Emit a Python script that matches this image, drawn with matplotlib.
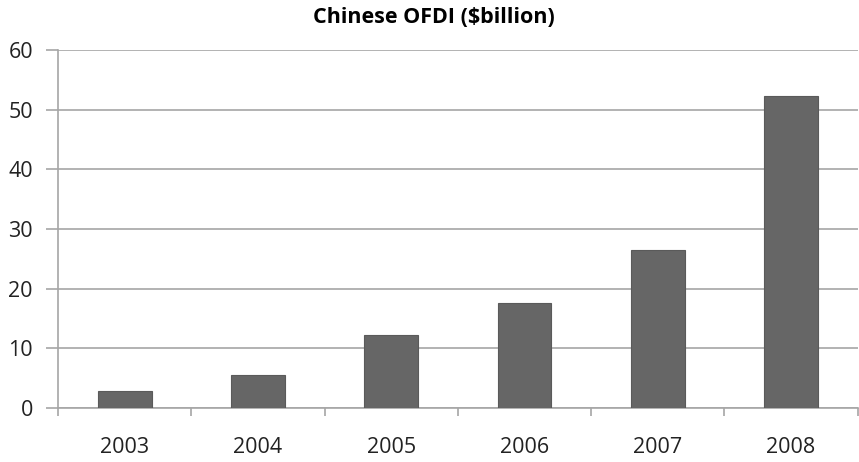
import numpy as np
import matplotlib.pyplot as plt

# data
YEARS = ["2003", "2004", "2005", "2006", "2007", "2008"]
OFDI = [2.9, 5.5, 12.3, 17.6, 26.5, 52.2]

Y_TICKS = [0, 10, 20, 30, 40, 50, 60]

BAR_COLOR = "#666666"
GRID_COLOR = "#a6a6a6"

plt.rcParams["font.family"] = ["Open Sans", "DejaVu Sans"]

figure = plt.figure(figsize=(8.59, 4.62), dpi=100)
axis = figure.add_axes([0.0675, 0.117, 0.931, 0.775])

x = np.arange(len(YEARS))
axis.bar(x, OFDI, width=0.405, color=BAR_COLOR, edgecolor="#5a5a5a",
         linewidth=0.8, zorder=3)

axis.set_xlim(-0.5, len(YEARS) - 0.5)
axis.set_ylim(0, 60)
axis.set_yticks(Y_TICKS)
axis.set_yticklabels([str(v) for v in Y_TICKS], fontsize=15.5, color="#222222")
axis.yaxis.grid(True, color=GRID_COLOR, linewidth=1.2, zorder=0)

# category labels at bar centres, tick marks at category boundaries
axis.set_xticks(np.arange(-0.5, len(YEARS) + 0.5, 1.0))
axis.set_xticklabels([])
axis.set_xticks(x, minor=True)
axis.set_xticklabels(YEARS, minor=True, fontsize=15.5, color="#222222")
axis.tick_params(axis="x", which="minor", length=0, pad=21)
axis.tick_params(axis="x", which="major", length=6, width=1.2,
                 color=GRID_COLOR, direction="out")
axis.tick_params(axis="y", length=9, width=1.2, color=GRID_COLOR,
                 direction="out", pad=9)

for side in ["top", "right"]:
    axis.spines[side].set_visible(False)
for side in ["left", "bottom"]:
    axis.spines[side].set_color(GRID_COLOR)
    axis.spines[side].set_linewidth(1.2)

figure.suptitle("Chinese OFDI ($billion)", fontsize=15.5, fontweight="bold",
                x=0.505, y=0.985, va="top")

figure.savefig("out.png", dpi=100)
